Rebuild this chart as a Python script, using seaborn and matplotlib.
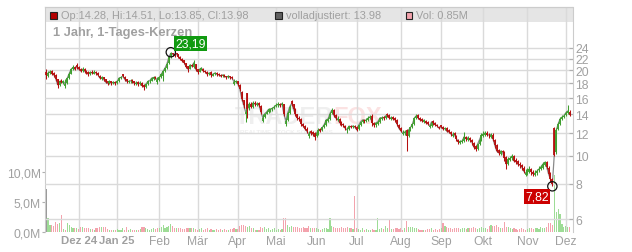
import numpy as np
import pandas as pd
import matplotlib
matplotlib.use("Agg")
import matplotlib.pyplot as plt
import seaborn as sns
from matplotlib.patches import Rectangle
from matplotlib.ticker import NullLocator

# ---------------- data ----------------
closes = [
    19.3, 19.6, 19.8, 19.5, 19.3, 18.7, 17.8, 18.3, 18.2, 18.3,
    17.9, 18.8, 19.5, 20.2, 20.5, 20.2, 20.6, 20.2, 19.9, 20.2,
    19.9, 19.6, 19.4, 19.7, 19.6, 19.7, 19.6, 19.3, 18.8, 18.9,
    18.6, 18.2, 18.0, 18.3, 18.0, 18.2, 18.0, 18.3, 18.8, 18.9,
    19.1, 18.6, 18.3, 18.3, 18.4, 18.3, 18.0, 18.1, 17.9, 18.1,
    17.7, 17.5, 17.9, 18.3, 18.4, 18.8, 18.9, 18.8, 18.5, 18.9,
    19.4, 19.9, 20.4, 21.1, 22.3, 23.0, 22.8, 22.7, 22.8, 22.4,
    22.0, 21.6, 21.3, 20.6, 20.2, 20.9, 20.7, 21.3, 20.2, 19.8,
    20.2, 20.4, 19.9, 19.8, 19.4, 19.6, 19.3, 19.4, 19.6, 19.4,
    19.3, 19.1, 19.3, 19.1, 18.9, 19.1, 18.9, 18.8, 18.2, 18.3,
    17.9, 17.2, 15.9, 15.1, 14.3, 14.6, 15.3, 14.9, 15.4, 15.2,
    15.3, 15.1, 14.3, 13.6, 14.1, 14.3, 14.6, 14.6, 14.7, 14.9,
    15.1, 15.2, 15.1, 15.3, 14.0, 13.3, 14.2, 14.9, 15.3, 14.6,
    14.0, 13.6, 13.5, 13.0, 12.75, 12.45, 12.2, 11.95, 12.05, 11.95,
    11.7, 12.05, 12.35, 12.25, 12.6, 12.9, 13.4, 13.5, 14.1, 14.5,
    13.9, 13.6, 13.5, 13.1, 12.95, 12.85, 12.5, 12.35, 12.75, 12.65,
    12.75, 12.65, 12.35, 12.85, 13.2, 13.4, 13.3, 13.4, 13.6, 13.75,
    13.1, 12.85, 13.1, 13.2, 13.6, 13.65, 13.6, 13.85, 13.9, 13.6,
    13.65, 13.5, 13.4, 12.95, 12.5, 12.25, 12.05, 12.15, 11.8, 12.35,
    12.6, 12.95, 13.6, 13.85, 13.6, 13.4, 13.3, 13.35, 13.1, 13.0,
    12.75, 13.2, 13.1, 12.9, 12.75, 12.5, 12.7, 12.45, 12.5, 12.2,
    12.15, 11.95, 11.9, 11.85, 11.5, 11.2, 11.25, 11.3, 11.7, 11.5,
    11.6, 11.4, 11.2, 10.75, 10.6, 11.0, 11.4, 11.85, 11.95, 12.05,
    11.9, 11.85, 11.9, 11.5, 10.9, 10.4, 10.25, 10.4, 10.3, 9.85,
    9.35, 9.75, 9.8, 10.0, 9.6, 9.55, 9.35, 9.3, 9.15, 8.85,
    8.7, 8.85, 9.0, 8.8, 8.65, 8.7, 8.85, 9.0, 9.15, 9.35,
    9.5, 9.15, 8.65, 8.3, 7.95, 10.1, 12.3, 12.95, 13.5, 13.7,
    13.85, 14.2, 14.4, 13.98,
]
opens = [
    19.8, 19.2, 19.6, 19.9, 19.6, 19.3, 18.6, 17.8, 18.4, 18.1,
    17.6, 18.0, 18.8, 19.5, 20.2, 20.6, 20.9, 20.6, 20.2, 19.9,
    20.3, 19.9, 19.7, 19.4, 19.8, 19.5, 19.8, 19.6, 19.2, 18.7,
    18.9, 18.6, 18.3, 18.0, 18.3, 18.0, 18.2, 18.0, 18.3, 18.8,
    19.4, 19.0, 18.6, 18.2, 18.3, 18.5, 18.3, 17.9, 18.2, 17.9,
    18.1, 17.8, 17.5, 17.9, 18.3, 18.4, 18.7, 19.0, 18.2, 18.5,
    18.9, 19.1, 19.9, 20.4, 21.2, 22.4, 23.0, 22.9, 23.0, 22.8,
    22.4, 22.0, 21.7, 21.2, 20.7, 20.3, 20.9, 20.6, 21.0, 20.2,
    19.8, 20.1, 20.3, 19.9, 19.8, 19.4, 19.7, 19.2, 19.4, 19.6,
    19.5, 19.3, 19.1, 19.3, 19.1, 18.9, 19.1, 19.0, 17.9, 18.2,
    18.3, 17.8, 16.8, 15.7, 14.0, 16.6, 14.7, 15.3, 14.9, 15.4,
    15.1, 15.4, 15.0, 13.3, 13.7, 14.1, 14.3, 14.5, 14.6, 14.7,
    15.0, 15.1, 15.3, 15.1, 15.2, 13.0, 13.4, 14.2, 15.6, 15.2,
    14.6, 14.0, 13.6, 13.5, 13.0, 12.8, 12.4, 11.8, 12.2, 12.1,
    12.0, 11.8, 12.0, 12.4, 12.3, 12.6, 12.9, 13.3, 13.5, 14.2,
    14.5, 13.9, 13.4, 13.5, 13.2, 13.0, 12.8, 12.3, 12.4, 12.8,
    12.6, 12.8, 12.7, 12.4, 12.9, 13.2, 13.4, 13.3, 13.4, 13.6,
    13.8, 13.1, 12.9, 13.0, 13.2, 13.5, 13.7, 13.6, 14.1, 13.9,
    13.5, 13.7, 13.6, 13.4, 12.9, 12.5, 11.95, 12.0, 12.3, 11.8,
    12.3, 12.6, 13.0, 13.6, 13.9, 13.6, 13.5, 13.2, 13.3, 13.2,
    12.6, 12.8, 13.3, 13.1, 12.9, 12.7, 12.9, 12.7, 12.4, 12.5,
    12.3, 12.1, 11.8, 12.0, 11.8, 11.4, 11.1, 11.2, 11.3, 11.7,
    11.4, 11.6, 11.4, 11.1, 10.8, 10.6, 11.0, 11.4, 11.8, 11.9,
    12.0, 11.9, 11.7, 11.9, 11.4, 10.9, 10.5, 10.2, 10.4, 10.3,
    9.9, 9.4, 9.7, 9.8, 10.0, 9.7, 9.6, 9.4, 9.3, 9.1,
    8.6, 8.7, 8.8, 9.0, 8.8, 8.6, 8.7, 8.9, 9.0, 9.1,
    9.3, 9.5, 9.1, 8.7, 8.3, 12.5, 10.3, 12.4, 13.0, 13.5,
    13.7, 13.9, 14.2, 14.28,
]
highs = [
    20.2, 19.9, 20.1, 20.0, 19.8, 19.4, 18.7, 18.5, 18.6, 18.5,
    18.6, 18.9, 19.7, 20.4, 20.9, 20.8, 21.2, 20.8, 20.4, 20.5,
    20.4, 20.1, 19.9, 19.9, 20.0, 20.1, 19.9, 19.7, 19.3, 19.1,
    19.0, 18.7, 18.4, 18.5, 18.4, 18.4, 18.3, 18.5, 18.9, 19.1,
    19.5, 19.1, 18.7, 18.5, 18.6, 18.6, 18.4, 18.3, 18.3, 18.3,
    18.2, 17.9, 18.0, 18.5, 18.6, 19.0, 19.1, 19.1, 18.9, 19.1,
    19.6, 20.1, 20.6, 21.4, 22.5, 23.19, 23.1, 23.0, 23.1, 22.9,
    22.5, 22.1, 21.8, 21.3, 20.8, 21.1, 21.1, 21.7, 21.1, 20.3,
    20.4, 20.6, 20.4, 20.1, 19.9, 19.8, 19.9, 19.6, 19.8, 19.7,
    19.6, 19.4, 19.5, 19.4, 19.2, 19.3, 19.2, 19.1, 18.6, 18.5,
    18.4, 17.9, 16.9, 15.8, 15.3, 16.7, 15.5, 15.5, 15.6, 15.6,
    15.5, 15.5, 15.1, 14.0, 14.2, 14.5, 14.8, 14.8, 14.9, 15.1,
    15.4, 15.5, 15.4, 15.5, 15.3, 13.6, 14.4, 15.1, 15.7, 15.3,
    14.7, 14.1, 13.8, 13.6, 13.1, 12.9, 12.6, 12.2, 12.3, 12.2,
    12.1, 12.2, 12.5, 12.5, 12.7, 13.1, 13.5, 13.7, 14.3, 14.7,
    14.6, 14.0, 13.8, 13.6, 13.3, 13.1, 12.9, 12.6, 12.8, 12.9,
    12.9, 12.9, 12.8, 13.0, 13.3, 13.5, 13.5, 13.6, 13.8, 13.9,
    14.0, 13.2, 13.2, 13.4, 13.7, 13.8, 13.8, 13.9, 14.2, 14.0,
    13.8, 13.8, 13.7, 13.5, 13.0, 12.6, 12.3, 12.3, 12.4, 12.4,
    12.7, 13.1, 13.7, 14.0, 14.0, 13.7, 13.6, 13.5, 13.4, 13.3,
    13.0, 13.3, 13.4, 13.2, 13.0, 12.8, 12.9, 12.8, 12.6, 12.6,
    12.4, 12.2, 12.1, 12.1, 11.9, 11.5, 11.4, 11.5, 12.1, 11.8,
    11.8, 11.7, 11.5, 11.2, 10.9, 11.1, 11.5, 12.0, 12.2, 12.2,
    12.2, 12.0, 12.0, 12.0, 11.5, 11.0, 10.6, 10.5, 10.5, 10.4,
    10.0, 9.9, 10.0, 10.2, 10.1, 9.8, 9.7, 9.5, 9.4, 9.2,
    9.0, 9.1, 9.2, 9.1, 8.9, 8.9, 9.0, 9.2, 9.3, 9.5,
    9.6, 9.6, 9.2, 8.8, 8.35, 12.7, 12.5, 13.2, 13.7, 13.9,
    14.1, 14.4, 15.1, 14.51,
]
lows = [
    18.6, 19.0, 19.4, 19.3, 19.0, 18.4, 17.3, 17.6, 18.0, 17.9,
    17.4, 17.9, 18.7, 19.4, 20.0, 20.0, 20.3, 20.0, 19.7, 19.8,
    19.6, 19.4, 19.2, 19.3, 19.4, 19.4, 19.3, 19.1, 18.6, 18.5,
    18.4, 18.0, 17.8, 17.9, 17.8, 17.9, 17.8, 17.9, 18.2, 18.6,
    18.9, 18.4, 18.1, 18.0, 18.1, 18.1, 17.8, 17.8, 17.7, 17.8,
    17.5, 17.1, 17.4, 17.8, 18.1, 18.3, 18.5, 18.6, 17.9, 18.4,
    18.8, 18.3, 19.8, 20.3, 21.1, 22.2, 22.5, 22.4, 22.6, 22.2,
    21.8, 21.4, 21.1, 20.4, 19.8, 20.2, 20.5, 20.4, 19.9, 19.5,
    19.7, 20.0, 19.7, 19.6, 19.2, 19.3, 19.0, 19.1, 19.3, 19.2,
    19.1, 18.9, 19.0, 18.9, 18.7, 18.8, 18.7, 18.6, 17.8, 18.0,
    17.6, 16.9, 15.6, 14.8, 13.2, 13.6, 14.5, 14.7, 14.8, 15.0,
    15.0, 14.9, 14.1, 13.2, 13.6, 14.0, 14.2, 14.3, 14.4, 14.6,
    14.9, 14.9, 14.9, 15.0, 13.8, 12.8, 13.3, 14.1, 15.0, 14.4,
    13.8, 13.4, 13.3, 12.8, 12.6, 12.3, 12.0, 11.6, 11.9, 11.8,
    11.4, 11.7, 11.9, 12.1, 12.2, 12.5, 12.8, 13.2, 13.4, 14.0,
    13.7, 13.4, 13.3, 12.9, 12.8, 12.7, 12.3, 12.0, 12.3, 12.5,
    12.5, 12.5, 12.2, 12.3, 12.8, 13.1, 13.1, 13.2, 13.3, 13.5,
    12.8, 12.7, 12.7, 12.9, 13.1, 13.4, 13.4, 13.5, 13.7, 13.5,
    13.4, 13.4, 13.2, 12.8, 12.4, 12.1, 11.85, 11.9, 10.4, 11.7,
    12.2, 12.5, 12.9, 13.5, 13.5, 13.3, 13.2, 13.1, 13.0, 12.9,
    12.5, 12.7, 12.9, 12.8, 12.6, 12.4, 12.5, 12.3, 12.3, 12.1,
    12.0, 11.8, 11.7, 11.7, 11.3, 11.0, 11.0, 11.1, 11.2, 11.3,
    11.3, 11.2, 10.9, 10.6, 10.4, 10.5, 10.9, 11.3, 11.7, 11.8,
    11.8, 11.6, 11.6, 11.3, 10.7, 10.3, 10.1, 10.1, 10.1, 9.6,
    9.0, 9.3, 9.6, 9.7, 9.5, 9.4, 9.2, 9.1, 8.9, 8.7,
    8.5, 8.6, 8.7, 8.6, 8.5, 8.5, 8.6, 8.8, 8.9, 9.0,
    9.2, 9.0, 8.5, 8.1, 7.82, 10.0, 10.2, 12.3, 12.9, 13.4,
    13.6, 13.8, 14.0, 13.85,
]
volumes_m = [
    7.2, 2.3, 1.2, 1.1, 1.0, 1.6, 1.3, 1.5, 2.9, 0.5,
    0.4, 1.5, 1.2, 0.9, 0.6, 0.7, 0.7, 0.5, 0.9, 0.9,
    0.6, 0.7, 0.6, 0.5, 0.5, 0.4, 0.6, 0.7, 0.8, 0.8,
    0.9, 0.9, 0.5, 0.3, 0.3, 0.4, 0.4, 0.5, 0.4, 0.4,
    0.7, 0.4, 0.8, 0.4, 0.5, 0.4, 0.3, 0.4, 0.4, 0.5,
    0.8, 0.8, 0.7, 0.5, 0.4, 0.5, 0.6, 0.5, 0.7, 0.7,
    0.8, 1.2, 0.7, 0.8, 1.0, 1.4, 1.0, 0.6, 0.7, 0.7,
    0.6, 0.5, 0.5, 0.7, 0.7, 0.6, 0.6, 0.7, 0.5, 0.4,
    0.5, 0.6, 0.4, 0.5, 0.6, 0.4, 0.5, 0.4, 0.3, 0.5,
    0.4, 0.5, 0.4, 0.5, 0.4, 0.4, 0.5, 0.5, 0.6, 0.5,
    0.5, 1.0, 1.1, 1.1, 1.0, 0.8, 1.0, 0.7, 0.6, 0.4,
    0.3, 0.4, 0.9, 0.6, 0.8, 0.5, 0.6, 0.4, 0.5, 0.6,
    0.4, 0.5, 0.4, 0.5, 2.3, 2.3, 1.1, 0.9, 1.0, 0.9,
    0.9, 0.8, 0.7, 0.6, 0.8, 0.6, 0.7, 1.0, 0.7, 0.6,
    0.7, 0.6, 0.5, 0.4, 0.5, 0.7, 0.6, 0.5, 2.3, 1.0,
    0.8, 0.7, 0.6, 0.7, 0.8, 0.7, 0.6, 0.8, 0.6, 0.7,
    0.5, 6.0, 0.6, 0.5, 0.4, 0.6, 0.4, 0.5, 0.4, 0.3,
    0.5, 0.4, 0.4, 2.3, 0.5, 0.6, 0.5, 1.0, 0.6, 2.0,
    0.5, 0.5, 0.6, 0.7, 0.5, 0.6, 0.4, 0.7, 1.9, 0.9,
    0.8, 0.9, 0.7, 0.6, 0.5, 0.4, 0.4, 0.4, 0.3, 0.5,
    0.5, 0.6, 0.4, 0.5, 0.4, 0.5, 0.6, 1.5, 1.0, 0.8,
    0.7, 0.6, 0.5, 0.7, 0.6, 0.7, 0.5, 0.6, 0.7, 0.5,
    0.6, 0.7, 0.6, 0.8, 0.7, 0.5, 0.6, 0.8, 0.7, 0.6,
    0.5, 1.0, 1.1, 1.0, 1.0, 1.1, 0.9, 0.6, 0.7, 1.6,
    0.9, 0.8, 0.6, 0.5, 0.6, 0.5, 0.4, 0.5, 0.6, 0.5,
    0.4, 0.5, 0.6, 0.7, 0.5, 0.6, 0.7, 0.5, 0.8, 0.7,
    0.6, 0.9, 1.5, 1.5, 1.2, 9.5, 3.4, 3.9, 3.0, 1.3,
    0.9, 1.0, 0.9, 0.85,
]
start_date, end_date = "2024-11-07", "2025-12-03"
exchange_holidays = ["2024-12-25", "2024-12-26", "2025-01-01",
                     "2025-04-18", "2025-04-21", "2025-05-01"]
month_labels = ["Dez 24", "Jan 25", "Feb", "Mär", "Apr", "Mai", "Jun",
                "Jul", "Aug", "Sep", "Okt", "Nov", "Dez"]
bold_labels = ["Dez 24", "Jan 25"]
price_ticks = [6, 8, 10, 12, 14, 16, 18, 20, 22, 24]
volume_ticks = [0, 5, 10]
volume_tick_labels = ["0,0M", "5,0M", "10,0M"]
title_text = "1 Jahr, 1-Tages-Kerzen"
header_ohlc = "Op:14.28, Hi:14.51, Lo:13.85, Cl:13.98"
header_adj = "volladjustiert: 13.98"
header_vol = "Vol: 0.85M"

# ---------------- derived ----------------
dates = pd.bdate_range(start_date, end_date)
dates = dates[~dates.isin(pd.to_datetime(exchange_holidays))]
n = min(len(dates), len(closes))
dates = dates[:n]
x = np.arange(n)
o = np.array(opens[:n]); c = np.array(closes[:n])
h = np.array(highs[:n]); l = np.array(lows[:n])
v = np.array(volumes_m[:n])

GREEN = "#3f9f2f"
RED = "#b50f0f"
VGREEN = "#9edc96"
VRED = "#f3a3ad"
candle_cols = [GREEN if cc >= oo else RED for oo, cc in zip(o, c)]
vol_cols = ["#999999"] + [VGREEN if c[i] >= c[i - 1] else VRED for i in range(1, n)]

ser = pd.Series(x, index=dates)
firsts = ser.groupby([dates.year, dates.month]).first().values[1:]

sns.set_style("white")
plt.rcParams['font.family'] = ['Liberation Sans', 'DejaVu Sans']

W, H = 632, 253
fig = plt.figure(figsize=(W / 100, H / 100), dpi=100)
L, R, T, B = 45, 572.5, 8, 233
axv = fig.add_axes([L / W, (H - B) / H, (R - L) / W, (B - T) / H])
axp = axv.twinx()
axp.patch.set_visible(False)

GRID = "#dadada"
TXT = "#a0a0a0"

# header band
hb = (B - 23) / (B - T)
axv.add_patch(Rectangle((0, hb), 1, 1 - hb, transform=axv.transAxes,
                        facecolor="#e5e5e5", edgecolor="none", zorder=0.2))
# vertical month grid
axv.vlines(firsts, 0, 1, transform=axv.get_xaxis_transform(),
           color=GRID, lw=1.0, zorder=0.5)

# watermark
axv.text(235 / W, 1 - 124 / H, "TRADER", transform=fig.transFigure,
         fontsize=17, fontweight="bold", color="#efefef", zorder=0.3, va="baseline")
axv.text(333 / W, 1 - 124 / H, "FOX", transform=fig.transFigure,
         fontsize=17, fontweight="bold", color="#fbe2e2", zorder=0.3, va="baseline")
axv.text(240 / W, 1 - 130.5 / H, "REALTIME STOCK SOLUTIONS", transform=fig.transFigure,
         fontsize=4.5, fontweight="bold", color="#efefef", zorder=0.3, va="top")

# volume
axv.bar(x, v, width=0.6, color=vol_cols, linewidth=0, zorder=2)
axv.set_ylim(0, 37.5)
axv.set_xlim(-0.6, n + 0.5)
axv.set_yticks(volume_ticks)
axv.set_yticklabels(volume_tick_labels)
axv.tick_params(axis="y", direction="out", length=2.5, width=0.8, color="#b0b0b0",
                labelcolor=TXT, labelsize=8.7, pad=0.5, left=True)
axv.set_xticks(firsts)
axv.set_xticklabels(month_labels[:len(firsts)])
for lab in axv.get_xticklabels():
    if lab.get_text() in bold_labels:
        lab.set_fontweight("bold")
        lab.set_fontsize(8.2)
axv.tick_params(axis="x", length=0, labelcolor=TXT, labelsize=8.7, pad=2.5)
for lab in axv.get_xticklabels():
    if lab.get_text() in bold_labels:
        lab.set_fontsize(8.2)

# price
axp.set_yscale("log")
axp.set_ylim(5.40, 33.46)
axp.grid(False)
axp.hlines(price_ticks, 0, 1, transform=axp.get_yaxis_transform(), color=GRID, lw=1.0, zorder=0.5)
sns.lineplot(x=x, y=c, ax=axp, color="#8a8a8a", lw=0.9, zorder=2)
axp.vlines(x, l, h, colors=candle_cols, lw=0.75, zorder=3)
axp.vlines(x, o, c, colors=candle_cols, lw=1.3, zorder=3)
axp.set_yticks(price_ticks)
axp.set_yticklabels([str(t) for t in price_ticks])
axp.yaxis.set_minor_locator(NullLocator())
axp.tick_params(axis="y", which="major", direction="in", length=3, width=0.8, color="#b0b0b0",
                labelcolor=TXT, labelsize=8.7, pad=2, right=True)
axp.set_ylabel("")

# extremes
ihi = int(np.argmax(h)); ilo = int(np.argmin(l))
axp.scatter([ihi, ilo], [h[ihi], l[ilo]], s=45, facecolors="none",
            edgecolors="#111111", linewidths=0.9, zorder=5)
axp.annotate(f"{h[ihi]:.2f}".replace(".", ","), xy=(ihi, h[ihi]), xytext=(14, 6.5),
             textcoords="offset points", ha="center", va="center", color="white",
             fontsize=8.7, zorder=6,
             bbox=dict(boxstyle="square,pad=0.12", fc="#119a11", ec="none"))
axp.annotate(f"{l[ilo]:.2f}".replace(".", ","), xy=(ilo, l[ilo]), xytext=(-11, -7.6),
             textcoords="offset points", ha="center", va="center", color="white",
             fontsize=8.7, zorder=6,
             bbox=dict(boxstyle="square,pad=0.12", fc="#cc0000", ec="none"))

# spines
for ax in (axv, axp):
    ax.spines["bottom"].set_visible(False)
    ax.spines["top"].set_color("#cccccc")
axv.spines["left"].set_color("#cccccc")
axv.spines["right"].set_visible(False)
axp.spines["left"].set_visible(False)
axp.spines["right"].set_color("#cccccc")

# header legend
def square(x0, y0, col):
    fig.add_artist(Rectangle((x0 / W, 1 - (y0 + 7) / H), 7 / W, 7 / H,
                             transform=fig.transFigure, facecolor=col,
                             edgecolor="#222222", lw=0.8, zorder=10))

square(50, 12.5, "#b30000")
fig.text(61 / W, 1 - 16 / H, header_ohlc, fontsize=7.9, color=TXT, va="center")
square(274.5, 12.5, "#606060")
fig.text(286 / W, 1 - 16 / H, header_adj, fontsize=7.9, color=TXT, va="center")
square(405.5, 12.5, VRED)
fig.text(416 / W, 1 - 16 / H, header_vol, fontsize=7.9, color=TXT, va="center")
fig.text(53 / W, 1 - 33 / H, title_text, fontsize=9.3, fontweight="bold", color=TXT, va="center")

fig.savefig("out.png", dpi=100)
